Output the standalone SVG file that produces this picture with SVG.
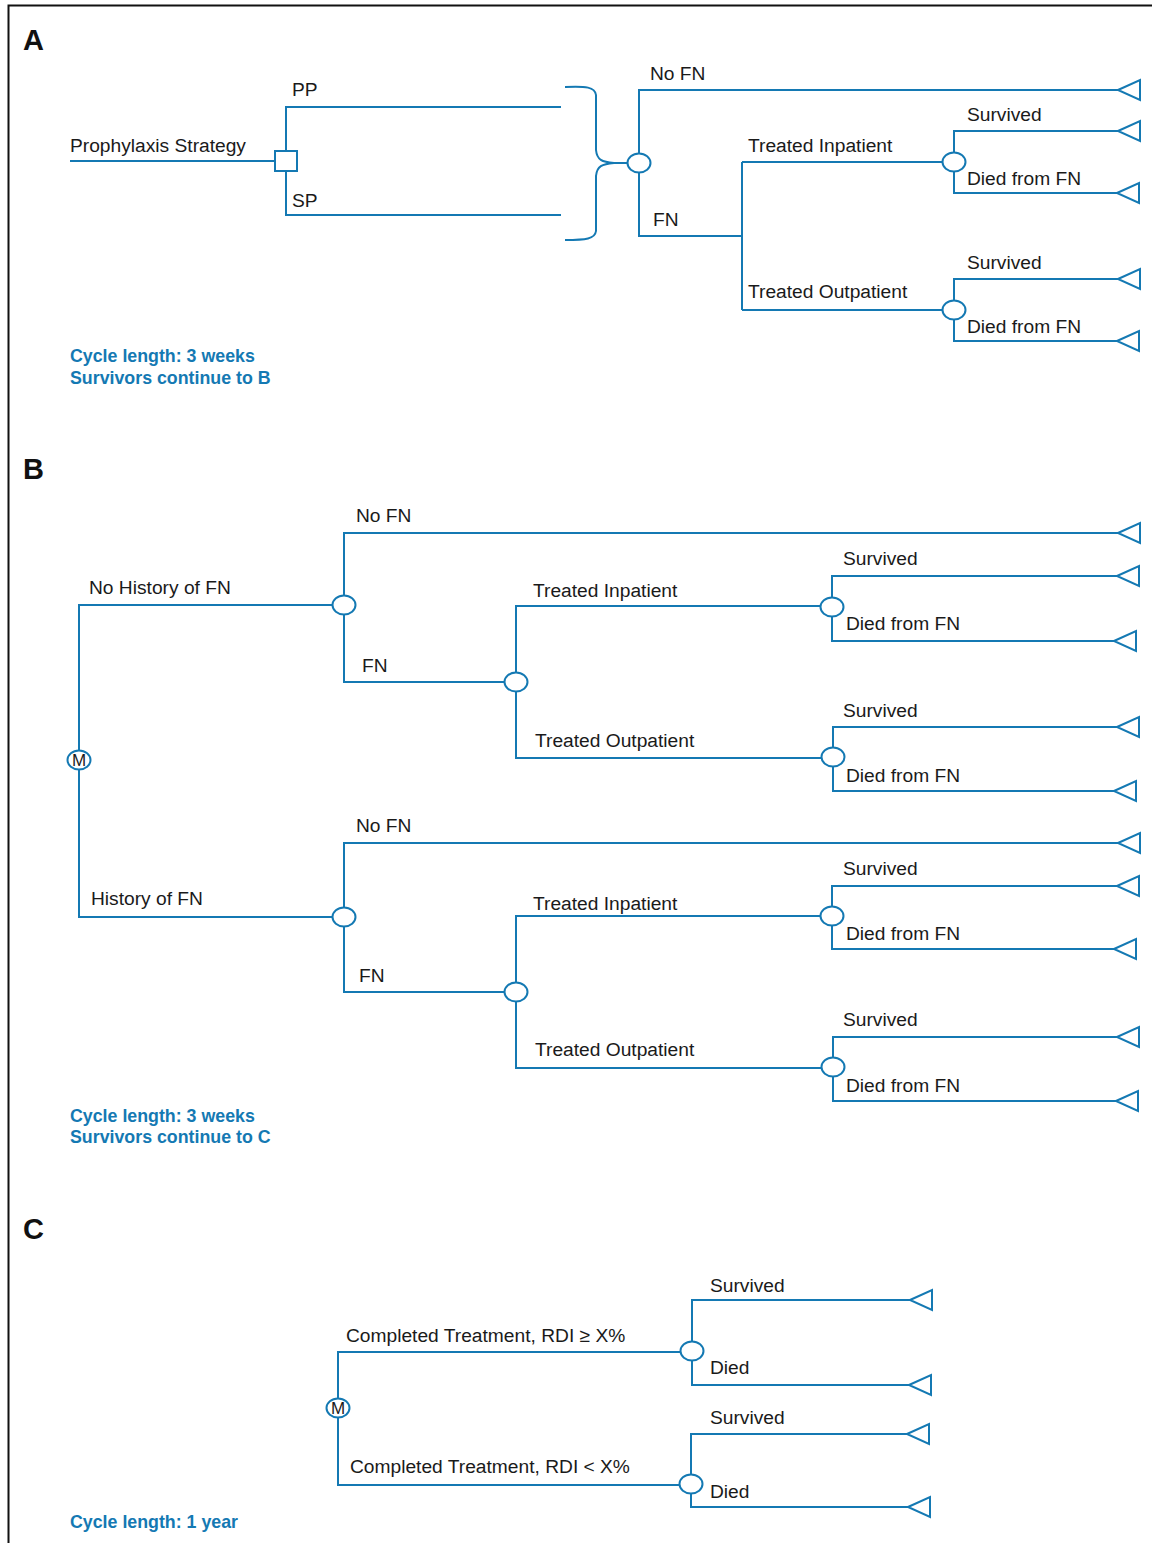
<svg xmlns="http://www.w3.org/2000/svg" xmlns:xlink="http://www.w3.org/1999/xlink" width="1152" height="1543" viewBox="0 0 1152 1543">
<style>
.ln{fill:none;stroke:#1479b3;stroke-width:2}
.nd{fill:#fff;stroke:#1479b3;stroke-width:2}
.tr{fill:#fff;stroke:#1479b3;stroke-width:2;stroke-linejoin:miter}
.t{font-family:"Liberation Sans",Arial,Helvetica,sans-serif;font-size:19.2px;fill:#1a1a1a}
.m{font-family:"Liberation Sans",Arial,Helvetica,sans-serif;font-size:17px;fill:#1a1a1a;text-anchor:middle}
.h{font-family:"Liberation Sans",Arial,Helvetica,sans-serif;font-size:29px;font-weight:bold;fill:#111}
.b{font-family:"Liberation Sans",Arial,Helvetica,sans-serif;font-size:17.8px;font-weight:bold;fill:#1479b3}
</style>
<defs>
<path id="tri" class="tr" d="M0,0 L22,-10 L22,10 Z"/>
</defs>
<rect width="1152" height="1543" fill="#fff"/>
<path d="M8.5,1543 V5.5 H1152" fill="none" stroke="#111" stroke-width="2"/>

<g id="connectors">
<!-- A -->
<path class="ln" d="M70,161 H275"/>
<path class="ln" d="M286,151 V107 H561"/>
<path class="ln" d="M286,171 V215 H561"/>
<path class="ln" d="M565,87 C586,86 595,87 596,95 V150 C597,160 602,162 614,163 H628"/>
<path class="ln" d="M565,240 C586,240 595,239 596,231 V176 C597,166 602,164 614,163"/>
<path class="ln" d="M639,153 V90 H1118"/>
<path class="ln" d="M639,173 V236 H742"/>
<path class="ln" d="M742,162 V310"/>
<path class="ln" d="M742,162 H943"/>
<path class="ln" d="M742,310 H943"/>
<path class="ln" d="M954,152 V131 H1118"/>
<path class="ln" d="M954,172 V193 H1117"/>
<path class="ln" d="M954,300 V279 H1118"/>
<path class="ln" d="M954,320 V341 H1117"/>
<!-- B -->
<path class="ln" d="M79,750 V605 H332"/>
<path class="ln" d="M79,770 V917 H332"/>
<path class="ln" d="M344,595 V533 H1118"/>
<path class="ln" d="M344,615 V682 H505"/>
<path class="ln" d="M516,672 V606 H820"/>
<path class="ln" d="M516,692 V758 H821"/>
<path class="ln" d="M832,597 V576 H1117"/>
<path class="ln" d="M832,617 V641 H1114"/>
<path class="ln" d="M833,747 V727 H1117"/>
<path class="ln" d="M833,767 V791 H1114"/>
<path class="ln" d="M344,907 V843 H1118"/>
<path class="ln" d="M344,927 V992 H505"/>
<path class="ln" d="M516,982 V916 H820"/>
<path class="ln" d="M516,1002 V1068 H821"/>
<path class="ln" d="M832,906 V886 H1117"/>
<path class="ln" d="M832,926 V949 H1114"/>
<path class="ln" d="M833,1057 V1037 H1117"/>
<path class="ln" d="M833,1077 V1101 H1116"/>
<!-- C -->
<path class="ln" d="M338,1398 V1352 H681"/>
<path class="ln" d="M338,1418 V1485 H680"/>
<path class="ln" d="M692,1341 V1300 H910"/>
<path class="ln" d="M692,1361 V1385 H909"/>
<path class="ln" d="M691,1474 V1434 H907"/>
<path class="ln" d="M691,1494 V1507 H908"/>
</g>

<!-- Section A nodes -->
<text class="h" x="23" y="50">A</text>
<g id="A_decision"><rect class="nd" x="275" y="151" width="22" height="20"/></g>
<g id="A_chance1"><ellipse class="nd" cx="639" cy="163" rx="11.5" ry="9.5"/></g>
<g id="A_chance2"><ellipse class="nd" cx="954" cy="162" rx="11.5" ry="9.5"/></g>
<g id="A_chance3"><ellipse class="nd" cx="954" cy="310" rx="11.5" ry="9.5"/></g>
<g id="A_terminals">
<use xlink:href="#tri" x="1118" y="90"/>
<use xlink:href="#tri" x="1118" y="131"/>
<use xlink:href="#tri" x="1117" y="193"/>
<use xlink:href="#tri" x="1118" y="279"/>
<use xlink:href="#tri" x="1117" y="341"/>
</g>
<g id="A_labels">
<text class="t" x="70" y="152">Prophylaxis Strategy</text>
<text class="t" x="292" y="96">PP</text>
<text class="t" x="292" y="207">SP</text>
<text class="t" x="650" y="80">No FN</text>
<text class="t" x="653" y="226">FN</text>
<text class="t" x="748" y="152">Treated Inpatient</text>
<text class="t" x="748" y="298">Treated Outpatient</text>
<text class="t" x="967" y="121">Survived</text>
<text class="t" x="967" y="185">Died from FN</text>
<text class="t" x="967" y="269">Survived</text>
<text class="t" x="967" y="333">Died from FN</text>
<text class="b" x="70" y="362">Cycle length: 3 weeks</text>
<text class="b" x="70" y="384">Survivors continue to B</text>
</g>

<!-- Section B -->
<text class="h" x="23" y="479">B</text>
<g id="B_markov"><ellipse class="nd" cx="79" cy="760" rx="11.5" ry="9.5"/><text class="m" x="79" y="766">M</text></g>
<g id="B_chance1"><ellipse class="nd" cx="344" cy="605" rx="11.5" ry="9.5"/></g>
<g id="B_chance2"><ellipse class="nd" cx="516" cy="682" rx="11.5" ry="9.5"/></g>
<g id="B_chance3"><ellipse class="nd" cx="832" cy="607" rx="11.5" ry="9.5"/></g>
<g id="B_chance4"><ellipse class="nd" cx="833" cy="757" rx="11.5" ry="9.5"/></g>
<g id="B_chance5"><ellipse class="nd" cx="344" cy="917" rx="11.5" ry="9.5"/></g>
<g id="B_chance6"><ellipse class="nd" cx="516" cy="992" rx="11.5" ry="9.5"/></g>
<g id="B_chance7"><ellipse class="nd" cx="832" cy="916" rx="11.5" ry="9.5"/></g>
<g id="B_chance8"><ellipse class="nd" cx="833" cy="1067" rx="11.5" ry="9.5"/></g>
<g id="B_terminals">
<use xlink:href="#tri" x="1118" y="533"/>
<use xlink:href="#tri" x="1117" y="576"/>
<use xlink:href="#tri" x="1114" y="641"/>
<use xlink:href="#tri" x="1117" y="727"/>
<use xlink:href="#tri" x="1114" y="791"/>
<use xlink:href="#tri" x="1118" y="843"/>
<use xlink:href="#tri" x="1117" y="886"/>
<use xlink:href="#tri" x="1114" y="949"/>
<use xlink:href="#tri" x="1117" y="1037"/>
<use xlink:href="#tri" x="1116" y="1101"/>
</g>
<g id="B_labels">
<text class="t" x="89" y="594">No History of FN</text>
<text class="t" x="91" y="905">History of FN</text>
<text class="t" x="356" y="522">No FN</text>
<text class="t" x="362" y="672">FN</text>
<text class="t" x="533" y="597">Treated Inpatient</text>
<text class="t" x="535" y="747">Treated Outpatient</text>
<text class="t" x="843" y="565">Survived</text>
<text class="t" x="846" y="630">Died from FN</text>
<text class="t" x="843" y="717">Survived</text>
<text class="t" x="846" y="782">Died from FN</text>
<text class="t" x="356" y="832">No FN</text>
<text class="t" x="359" y="982">FN</text>
<text class="t" x="533" y="910">Treated Inpatient</text>
<text class="t" x="535" y="1056">Treated Outpatient</text>
<text class="t" x="843" y="875">Survived</text>
<text class="t" x="846" y="940">Died from FN</text>
<text class="t" x="843" y="1026">Survived</text>
<text class="t" x="846" y="1092">Died from FN</text>
<text class="b" x="70" y="1122">Cycle length: 3 weeks</text>
<text class="b" x="70" y="1143">Survivors continue to C</text>
</g>

<!-- Section C -->
<text class="h" x="23" y="1239">C</text>
<g id="C_markov"><ellipse class="nd" cx="338" cy="1408" rx="11.5" ry="9.5"/><text class="m" x="338" y="1414">M</text></g>
<g id="C_chance1"><ellipse class="nd" cx="692" cy="1351" rx="11.5" ry="9.5"/></g>
<g id="C_chance2"><ellipse class="nd" cx="691" cy="1484" rx="11.5" ry="9.5"/></g>
<g id="C_terminals">
<use xlink:href="#tri" x="910" y="1300"/>
<use xlink:href="#tri" x="909" y="1385"/>
<use xlink:href="#tri" x="907" y="1434"/>
<use xlink:href="#tri" x="908" y="1507"/>
</g>
<g id="C_labels">
<text class="t" x="346" y="1342">Completed Treatment, RDI ≥ X%</text>
<text class="t" x="350" y="1473">Completed Treatment, RDI &lt; X%</text>
<text class="t" x="710" y="1292">Survived</text>
<text class="t" x="710" y="1374">Died</text>
<text class="t" x="710" y="1424">Survived</text>
<text class="t" x="710" y="1498">Died</text>
<text class="b" x="70" y="1528">Cycle length: 1 year</text>
</g>
</svg>
